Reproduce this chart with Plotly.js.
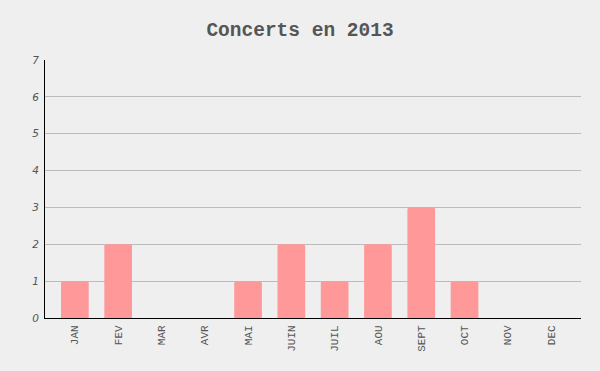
<!DOCTYPE html>
<html><head><meta charset="utf-8">
<script src="https://cdn.plot.ly/plotly-3.0.1.min.js"></script>
<style>html,body{margin:0;padding:0;background:#efefef;}</style>
</head><body>
<div id="chart" style="width:600px;height:371px;"></div>
<script>
const months = ["JAN","FEV","MAR","AVR","MAI","JUIN","JUIL","AOU","SEPT","OCT","NOV","DEC"];
const concerts = [1,2,0,0,1,2,1,2,3,1,0,0];
const yTicks = [0,1,2,3,4,5,6,7];

Plotly.newPlot("chart", [{
  type: "bar",
  x: months,
  y: concerts,
  marker: {color: "#ff9999", cornerradius: 2},
  hoverinfo: "x+y"
}], {
  width: 600, height: 371,
  paper_bgcolor: "#efefef",
  plot_bgcolor: "#efefef",
  margin: {l: 45, r: 19, t: 60, b: 53},
  bargap: 0.36,
  title: {text: "Concerts en 2013", x: 0.5, xanchor: "center", y: 0.922, yanchor: "middle",
    font: {family: "Liberation Mono, Courier New, monospace", size: 19.5, color: "#555", weight: "bold"}},
  xaxis: {
    range: [-0.69, 11.69],
    tickangle: -90,
    tickfont: {family: "Liberation Mono, Courier New, monospace", size: 11, color: "#555"},
    ticklabelstandoff: 2,
    showline: true, linecolor: "#000", linewidth: 1,
    showgrid: false, zeroline: false, ticks: "", fixedrange: true
  },
  yaxis: {
    range: [0, 7],
    tickvals: yTicks,
    tickfont: {family: "DejaVu Sans, sans-serif", size: 10.5, color: "#555", style: "italic"},
    ticklabelstandoff: 3,
    showline: true, linecolor: "#000", linewidth: 1,
    gridcolor: "#bbbbbb", gridwidth: 1,
    zeroline: false, ticks: "", ticklen: 0, fixedrange: true
  },
  showlegend: false
}, {displayModeBar: false, staticPlot: true});
</script>
</body></html>
